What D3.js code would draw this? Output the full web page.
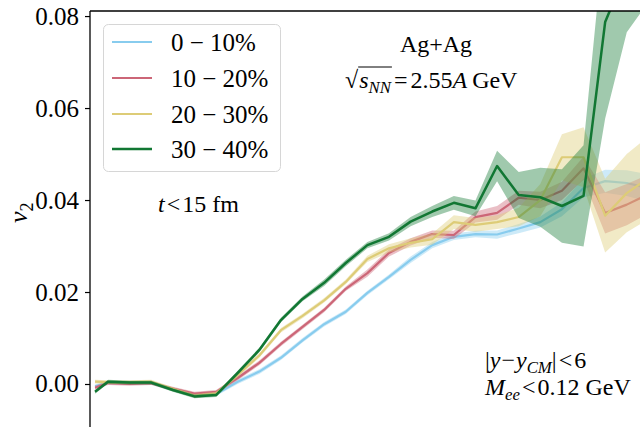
<!DOCTYPE html>
<html>
<head>
<meta charset="utf-8">
<script src="https://cdn.jsdelivr.net/npm/d3@7"></script>
<style>
    body { margin: 0; background: #fff; }
    svg text { font-family: 'Liberation Serif', 'DejaVu Serif', 'Times New Roman', serif; fill: #000; }
</style>
</head>
<body>
<script>
// v2 vs bin, four centrality classes with error bands
var xVals = [0.04, 0.1, 0.2, 0.3, 0.4, 0.5, 0.6, 0.7, 0.8, 0.9, 1.0, 1.1, 1.2,
    1.3, 1.4, 1.5, 1.6, 1.7, 1.8, 1.9, 2.0, 2.1, 2.2, 2.3, 2.4, 2.5, 2.6];

var labels = ["0 \u2212 10%", "10 \u2212 20%", "20 \u2212 30%", "30 \u2212 40%"];
var colors = ["#88CCEE", "#CC6677", "#DDCC77", "#117733"];

var v2Cent0 = [-0.0005, 0.0003, 0.0002, 0.0003, -0.0012, -0.0025, -0.0022,
    0.0005, 0.0027, 0.0057, 0.0095, 0.0130, 0.0157, 0.0198, 0.0233, 0.0270,
    0.0302, 0.0320, 0.0326, 0.0325, 0.0338, 0.0352, 0.0380, 0.0426, 0.0441,
    0.0437, 0.0426];
var v2Cent1 = [-0.0008, 0.0002, 0.0000, 0.0002, -0.0010, -0.0021, -0.0017,
    0.0013, 0.0046, 0.0087, 0.0124, 0.0161, 0.0207, 0.0241, 0.0285, 0.0309,
    0.0326, 0.0324, 0.0363, 0.0372, 0.0405, 0.0400, 0.0420, 0.0469, 0.0372,
    0.0390, 0.0413];
var v2Cent2 = [0.0005, 0.0004, 0.0004, 0.0005, -0.0011, -0.0026, -0.0021,
    0.0020, 0.0062, 0.0117, 0.0148, 0.0182, 0.0222, 0.0272, 0.0295, 0.0307,
    0.0315, 0.0352, 0.0346, 0.0352, 0.0363, 0.0400, 0.0493, 0.0493, 0.0366,
    0.0415, 0.0448];
var v2Cent3 = [-0.0017, 0.0005, 0.0003, 0.0003, -0.0013, -0.0027, -0.0024,
    0.0024, 0.0074, 0.0139, 0.0185, 0.0220, 0.0263, 0.0302, 0.0320, 0.0353,
    0.0375, 0.0394, 0.0382, 0.0474, 0.0411, 0.0406, 0.0387, 0.0409, 0.0787,
    0.0900, 0.0950];

var err0 = [0.0004, 0.0004, 0.0004, 0.0004, 0.0004, 0.0004, 0.0004, 0.0005,
    0.0005, 0.0005, 0.0005, 0.0005, 0.0005, 0.0005, 0.0005, 0.0007, 0.0007,
    0.0007, 0.0007, 0.0009, 0.0010, 0.0012, 0.0015, 0.0020, 0.0025, 0.0028,
    0.0030];
var err1 = [0.0004, 0.0004, 0.0004, 0.0004, 0.0004, 0.0004, 0.0004, 0.0005,
    0.0005, 0.0005, 0.0005, 0.0005, 0.0005, 0.0008, 0.0008, 0.0008, 0.0008,
    0.0009, 0.0012, 0.0015, 0.0015, 0.0018, 0.0020, 0.0025, 0.0045, 0.0045,
    0.0042];
var err2 = [0.0004, 0.0004, 0.0004, 0.0004, 0.0004, 0.0004, 0.0004, 0.0005,
    0.0005, 0.0005, 0.0005, 0.0005, 0.0005, 0.0007, 0.0009, 0.0010, 0.0012,
    0.0015, 0.0015, 0.0015, 0.0020, 0.0035, 0.0050, 0.0065, 0.0080, 0.0085,
    0.0090];
var err3 = [0.0004, 0.0004, 0.0004, 0.0004, 0.0004, 0.0004, 0.0004, 0.0005,
    0.0005, 0.0005, 0.0005, 0.0007, 0.0007, 0.0007, 0.0008, 0.0010, 0.0012,
    0.0015, 0.0017, 0.0033, 0.0050, 0.0064, 0.0080, 0.0110, 0.0210, 0.0135,
    0.0120];

var yTicks = [0.00, 0.02, 0.04, 0.06, 0.08];

var series = [
    {label: labels[0], color: colors[0], v: v2Cent0, e: err0},
    {label: labels[1], color: colors[1], v: v2Cent1, e: err1},
    {label: labels[2], color: colors[2], v: v2Cent2, e: err2},
    {label: labels[3], color: colors[3], v: v2Cent3, e: err3}
];

var FONT = "'Liberation Serif', 'DejaVu Serif', 'Times New Roman', serif";
var W = 640, H = 427;
var plot = {left: 90, top: 11, right: 670, bottom: 427};

var svg = d3.select("body").append("svg")
    .attr("width", W)
    .attr("height", H);

var x = d3.scaleLinear().domain([0.0167, 2.7]).range([plot.left, plot.right]);
var y = d3.scaleLinear().domain([-0.00935, 0.0811]).range([plot.bottom, plot.top]);

svg.append("defs").append("clipPath")
    .attr("id", "clip")
    .append("rect")
    .attr("x", plot.left)
    .attr("y", plot.top)
    .attr("width", plot.right - plot.left)
    .attr("height", plot.bottom - plot.top);

var body = svg.append("g").attr("clip-path", "url(#clip)");

var area = d3.area()
    .x(function(d) { return x(d.x); })
    .y0(function(d) { return y(d.v - d.e); })
    .y1(function(d) { return y(d.v + d.e); });

var line = d3.line()
    .x(function(d) { return x(d.x); })
    .y(function(d) { return y(d.v); });

series.forEach(function(s, k) {
    var pts = xVals.map(function(xv, i) { return {x: xv, v: s.v[i], e: s.e[i]}; });
    body.append("path")
        .datum(pts)
        .attr("d", area)
        .attr("fill", s.color)
        .attr("fill-opacity", k == 3 ? 0.4 : 0.42)
        .attr("stroke", "none");
    body.append("path")
        .datum(pts)
        .attr("d", line)
        .attr("fill", "none")
        .attr("stroke", s.color)
        .attr("stroke-width", k == 3 ? 2.5 : 2.2)
        .attr("stroke-linejoin", "round");
});

// spines
svg.append("line")
    .attr("x1", plot.left).attr("x2", plot.left)
    .attr("y1", plot.top).attr("y2", H)
    .attr("stroke", "#000").attr("stroke-width", 1.3);
svg.append("line")
    .attr("x1", plot.left).attr("x2", W)
    .attr("y1", plot.top).attr("y2", plot.top)
    .attr("stroke", "#000").attr("stroke-width", 1.3);

// y axis
var yAxis = d3.axisLeft(y)
    .tickValues(yTicks)
    .tickSize(5)
    .tickPadding(6)
    .tickFormat(d3.format(".2f"));

var gy = svg.append("g")
    .attr("transform", "translate(" + plot.left + ",0)")
    .call(yAxis)
    .attr("font-family", FONT)
    .attr("font-size", 25);
gy.select(".domain").remove();
gy.selectAll(".tick line").attr("stroke", "#000").attr("stroke-width", 1.2);
gy.selectAll(".tick text")
    .attr("font-family", FONT)
    .style("font-family", FONT)
    .style("font-size", "25px")
    .attr("fill", "#000");

// pieces of text laid out one after another, some italic or subscripted
function mathText(g, x0, y0, size, pieces) {
    var cx = x0;
    pieces.forEach(function(p) {
        if (p.gap) cx += p.gap;
        if (!p.t) return;
        var fs = p.sub ? size * 0.7 : size;
        var t = g.append("text")
            .attr("x", cx)
            .attr("y", y0 + (p.sub ? size * 0.22 : 0))
            .attr("font-family", FONT)
            .style("font-family", FONT)
            .style("font-size", fs + "px")
            .style("font-style", p.it ? "italic" : "normal")
            .text(p.t);
        p.x0 = cx;
        cx += t.node().getComputedTextLength();
        p.x1 = cx;
    });
    return cx;
}

var ann = svg.append("g");

// y label
var ylab = ann.append("g").attr("transform", "translate(27,214) rotate(-90)");
mathText(ylab, -9, 0, 26, [{t: "v", it: true}, {t: "2", sub: true}]);

ann.append("text")
    .attr("x", 436).attr("y", 52)
    .attr("text-anchor", "middle")
    .style("font-family", FONT)
    .style("font-size", "24px")
    .text("Ag+Ag");

var sq = [
    {t: "\u221A"},
    {t: "s", it: true, gap: 1},
    {t: "NN", it: true, sub: true},
    {t: "=", gap: 3},
    {t: "2.55", gap: 3},
    {t: "A", it: true},
    {t: "GeV", gap: 5}
];
mathText(ann, 345, 88, 24, sq);
ann.append("line")
    .attr("x1", sq[1].x0 - 1).attr("x2", sq[2].x1 + 1)
    .attr("y1", 67).attr("y2", 67)
    .attr("stroke", "#000").attr("stroke-width", 1);

mathText(ann, 158, 212, 24, [
    {t: "t", it: true},
    {t: "<", gap: 2},
    {t: "15", gap: 2},
    {t: "fm", gap: 6}
]);

mathText(ann, 485, 368, 24, [
    {t: "|"},
    {t: "y", it: true},
    {t: "\u2212", gap: 1},
    {t: "y", it: true, gap: 1},
    {t: "CM", it: true, sub: true},
    {t: "|"},
    {t: "<", gap: 2},
    {t: "6", gap: 2}
]);

mathText(ann, 485, 395, 24, [
    {t: "M", it: true},
    {t: "ee", it: true, sub: true},
    {t: "<", gap: 2},
    {t: "0.12", gap: 2},
    {t: "GeV", gap: 6}
]);

// legend
var leg = svg.append("g");
leg.append("rect")
    .attr("x", 103.5).attr("y", 24.5)
    .attr("width", 177).attr("height", 147)
    .attr("rx", 5).attr("ry", 5)
    .attr("fill", "#fff").attr("fill-opacity", 0.8)
    .attr("stroke", "#d6d6d6").attr("stroke-width", 1);

var legY = [42, 78, 114, 149];
series.forEach(function(s, i) {
    leg.append("line")
        .attr("x1", 112).attr("x2", 152)
        .attr("y1", legY[i]).attr("y2", legY[i])
        .attr("stroke", s.color)
        .attr("stroke-width", i == 3 ? 2.5 : 2.2);
    leg.append("text")
        .attr("x", 171).attr("y", legY[i] + 8.5)
        .style("font-family", FONT)
        .style("font-size", "25px")
        .text(s.label);
});
</script>
</body>
</html>
